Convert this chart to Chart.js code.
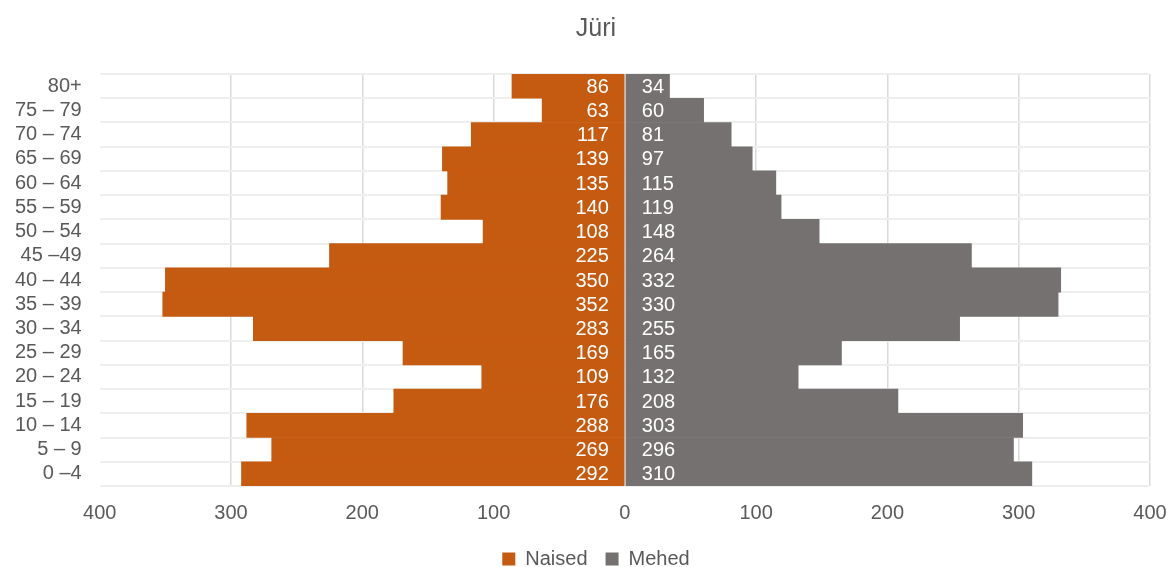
<!DOCTYPE html>
<html>
<head>
<meta charset="utf-8">
<script src="https://cdn.jsdelivr.net/npm/chart.js@4"></script>
<style>
  html, body { margin: 0; padding: 0; background: #ffffff; }
  #wrap { width: 1170px; height: 567px; }
</style>
</head>
<body>
<div id="wrap"><canvas id="chart"></canvas></div>
<script>
var ageGroups = ["80+", "75 – 79", "70 – 74", "65 – 69", "60 – 64", "55 – 59", "50 – 54", "45 –49",
    "40 – 44", "35 – 39", "30 – 34", "25 – 29", "20 – 24", "15 – 19", "10 – 14", "5 – 9", "0 –4"];
var women = [86, 63, 117, 139, 135, 140, 108, 225, 350, 352, 283, 169, 109, 176, 288, 269, 292];
var men = [34, 60, 81, 97, 115, 119, 148, 264, 332, 330, 255, 165, 132, 208, 303, 296, 310];
var xTicks = [-400, -300, -200, -100, 0, 100, 200, 300, 400];

var textColor = "#595959";
var fontFamily = "'Liberation Sans', Arial, sans-serif";

// draw the numbers next to the zero line, inside the bars
var centerLabels = {
    id: "centerLabels",
    afterDatasetsDraw: function(chart) {
        var ctx = chart.ctx;
        var x0 = chart.scales.x.getPixelForValue(0);
        ctx.save();
        // thin line on the zero axis
        ctx.strokeStyle = "#c8c8c8";
        ctx.lineWidth = 1;
        ctx.beginPath();
        ctx.moveTo(x0 + 0.5, chart.chartArea.top);
        ctx.lineTo(x0 + 0.5, chart.chartArea.bottom);
        ctx.stroke();

        ctx.font = "20px " + fontFamily;
        ctx.fillStyle = "#ffffff";
        ctx.textBaseline = "middle";
        chart.data.datasets.forEach(function(ds, di) {
            var meta = chart.getDatasetMeta(di);
            meta.data.forEach(function(bar, i) {
                var v = Math.abs(ds.data[i]);
                if (di == 0) {
                    ctx.textAlign = "right";
                    ctx.fillText(v, x0 - 16, bar.y + 1);
                } else {
                    ctx.textAlign = "left";
                    ctx.fillText(v, x0 + 17, bar.y + 1);
                }
            });
        });
        ctx.restore();
    }
};

var chart = new Chart(document.getElementById("chart"), {
    type: "bar",
    data: {
        labels: ageGroups,
        datasets: [
            {
                label: "Naised",
                data: women.map(v => -v),
                backgroundColor: "#c55a11",
                barPercentage: 1,
                categoryPercentage: 1,
            },
            {
                label: "Mehed",
                data: men,
                backgroundColor: "#767171",
                barPercentage: 1,
                categoryPercentage: 1,
            },
        ]
    },
    options: {
        indexAxis: "y",
        maintainAspectRatio: false,
        responsive: true,
        animation: false,
        layout: {
            // negative right padding moves the title/legend centre right, like the original
            padding: {left: -3, right: -25, top: 0, bottom: -12}
        },
        scales: {
            x: {
                stacked: true,
                min: -400,
                max: 400,
                afterBuildTicks: function(axis) {
                    axis.ticks = xTicks.map(v => ({value: v}));
                },
                afterFit: function(axis) {
                    axis.height -= 9;
                    axis.paddingRight = 20;
                },
                ticks: {
                    callback: (v) => Math.abs(v),
                    color: textColor,
                    font: {family: fontFamily, size: 20},
                    padding: 15,
                    maxRotation: 0,
                },
                grid: {
                    color: (c) => (c.tick && c.tick.value == -400 ? "rgba(0,0,0,0)" : "#d9d9d9"),
                    lineWidth: 1.5,
                    drawTicks: false,
                },
                border: {display: false},
            },
            y: {
                stacked: true,
                ticks: {
                    color: textColor,
                    font: {family: fontFamily, size: 20},
                    padding: 18,
                    autoSkip: false,
                },
                grid: {
                    color: "#eeeeee",
                    lineWidth: 2,
                    drawTicks: false,
                },
                border: {display: false},
            }
        },
        plugins: {
            title: {
                display: true,
                text: "Jüri",
                color: textColor,
                font: {family: fontFamily, size: 25, weight: "normal"},
                padding: {top: 14, bottom: 30},
            },
            legend: {
                position: "bottom",
                labels: {
                    color: textColor,
                    font: {family: fontFamily, size: 20},
                    boxWidth: 13,
                    boxHeight: 13,
                    padding: 18,
                }
            },
            tooltip: {enabled: false},
        }
    },
    plugins: [centerLabels]
});
</script>
</body>
</html>
